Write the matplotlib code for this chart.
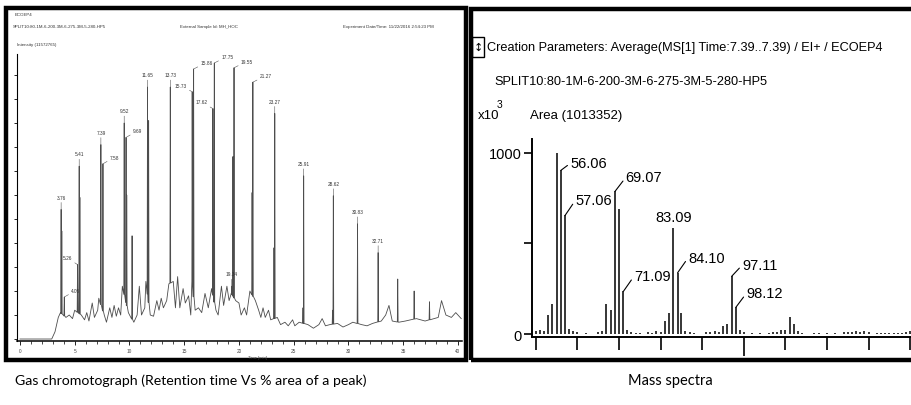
import numpy as np
import matplotlib
matplotlib.use('Agg')
import matplotlib.pyplot as plt
from matplotlib import font_manager
from matplotlib.patches import Rectangle

# ---- gas chromatogram (time in min, intensity in axis-tick units) ----
base_t = [0, 2.9, 3.2, 3.5, 3.7, 4.2, 4.5, 4.8, 5.0, 5.6, 5.9, 6.1, 6.3, 6.6, 6.8, 7.1, 7.2,
          7.7, 7.9, 8.2, 8.4, 8.6, 8.8, 9.0, 9.2, 9.35, 9.9, 10.4, 10.7, 10.9, 11.1, 11.4, 11.5,
          11.9, 12.2, 12.5, 12.7, 12.9, 13.1, 13.4, 13.6, 14.0, 14.2, 14.4, 14.6, 14.9, 15.1,
          15.4, 15.6, 15.7, 16.0, 16.3, 16.6, 16.9, 17.2, 17.5, 17.9, 18.1, 18.4, 18.6, 18.9,
          19.1, 19.3, 19.7, 20.0, 20.2, 20.5, 20.7, 21.0, 21.5, 21.8, 22.0, 22.2, 22.4, 22.7,
          22.9, 23.5, 23.8, 24.2, 24.5, 24.9, 25.1, 25.5, 26.3, 26.8, 27.3, 27.6, 27.9, 28.3,
          29.0, 29.5, 30.0, 30.4, 31.2, 31.7, 32.2, 33.0, 33.4, 33.7, 34.0, 34.6, 35.2, 35.7,
          36.2, 36.6, 37.0, 37.8, 38.2, 38.5, 38.9, 39.4, 39.8, 40.3]
base_y = [0, 0, 0.3, 0.9, 1.1, 0.9, 1.0, 0.85, 1.2, 1.0, 0.8, 1.1, 0.75, 1.5, 0.9, 1.2, 1.7,
          1.0, 0.7, 1.3, 0.9, 1.4, 0.95, 1.3, 1.0, 2.2, 1.1, 0.7, 1.0, 2.2, 1.0, 1.3, 2.4,
          1.0, 0.95, 1.6, 1.2, 1.7, 1.3, 1.6, 2.3, 2.4, 1.3, 2.6, 1.3, 2.1, 1.5,
          1.8, 1.0, 2.4, 1.2, 1.3, 1.1, 1.9, 1.3, 2.1, 1.2, 1.0, 2.2, 1.4, 2.2,
          1.6, 1.9, 1.6, 1.5, 1.0, 1.3, 1.0, 2.0, 1.6, 1.2, 0.9, 1.3, 0.9, 1.2,
          0.8, 0.9, 0.6, 0.7, 0.55, 0.8, 0.55, 0.7, 0.6, 0.45, 0.6, 0.85, 0.55, 0.6,
          0.65, 0.5, 0.6, 0.7, 0.6, 0.55, 0.65, 0.75, 1.0, 1.4, 0.75, 0.7, 0.75, 0.8,
          0.85, 0.8, 0.75, 0.85, 0.9, 1.6, 1.0, 0.9, 1.1, 0.85]

peak_t = [3.76, 3.82, 4.05, 5.26, 5.41, 5.47, 7.39, 7.58, 9.52, 9.69,
          9.75, 10.24, 11.65, 11.75, 13.73, 15.73, 15.86, 17.62, 17.75, 19.34,
          19.45, 19.55, 21.2, 21.27, 23.2, 23.27, 25.85, 25.91, 28.55, 28.62,
          30.83, 32.71, 34.5, 36.0, 37.4]
peak_h = [5.4, 4.5, 1.75, 3.1, 7.2, 5.9, 8.1, 7.3, 9.0, 8.4,
          6.0, 4.3, 10.5, 9.1, 10.5, 10.3, 11.25, 9.6, 11.5, 2.2,
          7.6, 11.3, 6.1, 10.7, 3.8, 9.4, 1.3, 6.8, 1.2, 5.97,
          4.8, 3.6, 2.5, 2.0, 1.55]
peak_lab = ['3.76', '', '4.05', '5.26', '5.41', '', '7.39', '7.58', '9.52', '9.69',
            '', '', '11.65', '', '13.73', '15.73', '15.86', '17.62', '17.75', '19.34',
            '', '19.55', '', '21.27', '', '23.27', '', '25.91', '', '28.62',
            '30.83', '32.71', '', '', '']

gc_header = ['ECOEP4', 'SPLIT10:80-1M-6-200-3M-6-275-3M-5-280-HP5',
             'External Sample Id: MH_HOC', 'Experiment Date/Time: 11/22/2016 2:54:23 PM',
             'Intensity (11572765)']

# ---- mass spectrum (m/z, intensity x10^3) ----
ms_mz = [50, 51, 52, 53, 54, 55, 56.06, 57.06, 58, 59, 60, 62, 65, 66, 67, 68, 69.07, 70, 71.09, 72,
         73, 74, 75, 77, 78, 79, 80, 81, 82, 83.09, 84.10, 85, 86, 87, 88, 91, 92, 93, 94, 95,
         96, 97.11, 98.12, 99, 100, 102, 104, 106, 107, 108, 109, 110, 111, 112, 113, 114, 117, 118, 120, 122,
         124, 125, 126, 127, 128, 129, 130, 132, 133, 134, 135, 136, 137, 138, 139, 140]
ms_int = [15, 20, 15, 105, 166, 1000, 904, 655, 30, 15, 10, 5, 10, 15, 166, 135, 788, 688, 236, 25,
          10, 8, 5, 10, 8, 15, 10, 74, 116, 585, 338, 114, 15, 10, 8, 12, 10, 15, 12, 46,
          55, 319, 148, 20, 10, 5, 8, 8, 12, 10, 20, 25, 92, 55, 15, 8, 8, 5, 5, 5,
          10, 12, 10, 15, 12, 15, 10, 5, 6, 5, 5, 6, 5, 8, 10, 15]
ms_lab_mz = [56.06, 57.06, 69.07, 71.09, 83.09, 84.10, 97.11, 98.12]
ms_lab_int = [904, 655, 788, 236, 585, 338, 319, 148]

ms_title = 'Creation Parameters: Average(MS[1] Time:7.39..7.39) / EI+ / ECOEP4'
ms_method = 'SPLIT10:80-1M-6-200-3M-6-275-3M-5-280-HP5'
ms_area = 'Area (1013352)'

names = {f.name for f in font_manager.fontManager.ttflist}
narrow = 'Liberation Sans Narrow' if 'Liberation Sans Narrow' in names else 'Liberation Sans'
capfont = 'Lato' if 'Lato' in names else 'DejaVu Sans'

W, H = 911, 406
def fx(px):
    return px / W
def fy(py):
    return 1 - py / H

fig = plt.figure(figsize=(W / 100, H / 100), dpi=100)

# panel frames
fig.add_artist(Rectangle((fx(6), fy(361)), fx(466) - fx(6), fy(9) - fy(361),
                         transform=fig.transFigure, fill=False, ec='black', lw=3.2))
fig.add_artist(Rectangle((fx(471), fy(361)), fx(960) - fx(471), fy(10) - fy(361),
                         transform=fig.transFigure, fill=False, ec='black', lw=3.2))

# ---------------- left: chromatogram ----------------
ax1 = fig.add_axes([fx(17), fy(341.7), fx(462) - fx(17), fy(55) - fy(341.7)])
w = 0.035
pts = list(zip(base_t, base_y))
for t, h in zip(peak_t, peak_h):
    b = np.interp(t, base_t, base_y)
    pts += [(t - w, b), (t, h), (t + w, b)]
pts.sort(key=lambda p: p[0])
tr = np.array(pts)
ax1.plot(tr[:, 0], tr[:, 1], color='#4d4d4d', lw=0.6)

side = {'4.05': 'r', '5.26': 'l', '7.58': 'r', '9.69': 'r', '15.73': 'l', '15.86': 'r',
        '17.62': 'l', '17.75': 'r', '19.55': 'r', '21.27': 'r'}
for t, h, lab in zip(peak_t, peak_h, peak_lab):
    if not lab:
        continue
    s = side.get(lab, 'c')
    if s == 'c':
        off, ha = (0, 7), 'center'
    elif s == 'r':
        off, ha = (5, 3), 'left'
    else:
        off, ha = (-4, 3), 'right'
    ax1.annotate(lab, (t, h), xytext=off, textcoords='offset points', ha=ha, va='bottom',
                 fontsize=3.4, family=narrow, color='#333333',
                 arrowprops=dict(arrowstyle='-', lw=0.4, color='#555555', shrinkA=0, shrinkB=0))

ax1.set_xlim(-0.27, 40.37)
ax1.set_ylim(-0.07, 11.875)
ax1.set_xticks(np.arange(0, 41, 5))
ax1.set_xticks(np.arange(0, 41, 1), minor=True)
ax1.set_yticks(np.arange(0, 12, 1))
ax1.tick_params(axis='x', which='major', length=3, width=0.6, labelsize=3.4, pad=2.5,
                labelcolor='#444444')
ax1.tick_params(axis='x', which='minor', length=2, width=0.5)
ax1.tick_params(axis='y', length=2.5, width=0.6, labelleft=False)
for sp in ['top', 'right']:
    ax1.spines[sp].set_visible(False)
ax1.spines['bottom'].set_linewidth(1.1)
ax1.spines['left'].set_linewidth(0.8)
ax1.patch.set_alpha(0)
for lab in ax1.get_xticklabels():
    lab.set_family(narrow)
fig.text(fx(257), fy(358), 'Time [min]', fontsize=3, family=narrow, color='#444444',
         ha='center', va='center')

hx = [15, 13, 180, 343, 17]
hy = [15, 27, 27, 27, 45]
for x, y, s in zip(hx, hy, gc_header):
    fig.text(fx(x), fy(y), s, fontsize=3.2, family=narrow, color='#333333', va='center')

# ---------------- right: mass spectrum ----------------
ax2 = fig.add_axes([fx(532), fy(338.3), 1 - fx(532), fy(140) - fy(338.3)])
ax2.vlines(ms_mz, 0, ms_int, color='black', lw=1.1)
lab_off = {56.06: (6.7, 5), 57.06: (7.5, 11), 69.07: (7.7, 10), 71.09: (7.7, 11),
           84.10: (7.7, 11), 97.11: (7.5, 8), 98.12: (7.5, 10)}
for mz, it in zip(ms_lab_mz, ms_lab_int):
    lab = '%.2f' % mz
    if mz in lab_off:
        ax2.annotate(lab, (mz, it), xytext=lab_off[mz], textcoords='offset points',
                     ha='left', va='center', fontsize=10.5, family=narrow,
                     arrowprops=dict(arrowstyle='-', lw=0.8, color='black',
                                     shrinkA=0, shrinkB=0, relpos=(0, 0.5)))
    else:
        ax2.annotate(lab, (mz, it), xytext=(0, 3), textcoords='offset points',
                     ha='center', va='bottom', fontsize=10.5, family=narrow)

ax2.set_xlim(49.11, 140.2)
ax2.set_ylim(-18, 1077)
ax2.set_xticks([100])
ax2.set_xticks([50, 60, 70, 80, 90, 110, 120, 130, 140], minor=True)
ax2.tick_params(axis='x', which='major', length=14, width=1.2, labelbottom=False)
ax2.tick_params(axis='x', which='minor', length=9.5, width=1.2)
ax2.set_yticks([0, 500, 1000])
ax2.set_yticklabels(['0', '', '1000'], family=narrow, fontsize=10.5)
ax2.tick_params(axis='y', length=5.5, width=1.2, pad=2)
for sp in ['top', 'right']:
    ax2.spines[sp].set_visible(False)
ax2.spines['bottom'].set_linewidth(1.4)
ax2.spines['left'].set_linewidth(1.4)
ax2.patch.set_alpha(0)

# header of the spectrum window
fig.add_artist(Rectangle((fx(472), fy(58)), fx(484) - fx(472), fy(38) - fy(58),
                         transform=fig.transFigure, fill=False, ec='black', lw=1))
fig.text(fx(478), fy(48), '\u2195', fontsize=8, ha='center', va='center')
fig.text(fx(487), fy(48), ms_title, fontsize=9.2, family=narrow, va='center')
fig.text(fx(494), fy(82), ms_method, fontsize=9.2, family=narrow, va='center')
fig.text(fx(478), fy(116), 'x10', fontsize=9.5, family=narrow, va='center')
fig.text(fx(497), fy(105), '3', fontsize=7.5, family=narrow, va='center')
fig.text(fx(530), fy(116), ms_area, fontsize=9.5, family=narrow, va='center')

# captions
fig.text(fx(15), fy(381), 'Gas chromotograph (Retention time Vs % area of a peak)',
         fontsize=10.2, family=capfont, va='center')
fig.text(fx(628), fy(381), 'Mass spectra', fontsize=10.5, family=capfont, va='center')

fig.savefig('out.png', dpi=100)
